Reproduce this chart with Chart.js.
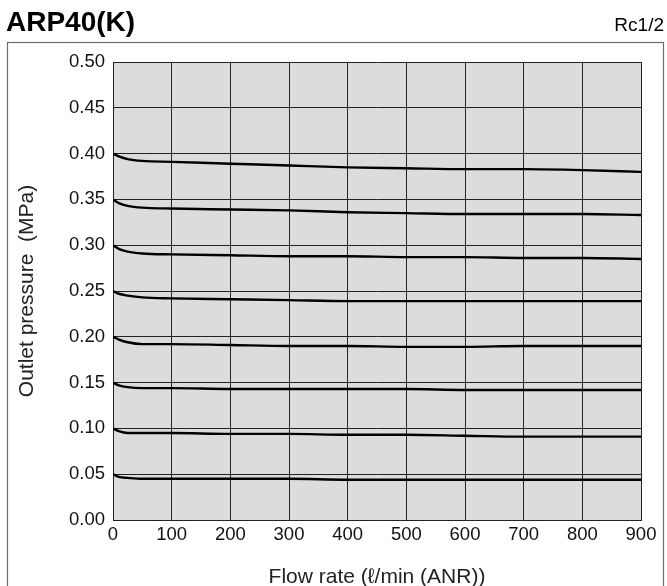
<!DOCTYPE html>
<html>
<head>
<meta charset="utf-8">
<script src="https://cdn.jsdelivr.net/npm/chart.js@4.4.1/dist/chart.umd.min.js"></script>
<style>
html,body{margin:0;padding:0;background:#fff;}
#wrap{width:667px;height:586px;position:relative;}
</style>
</head>
<body>
<div id="wrap"><canvas id="c" width="667" height="586"></canvas></div>
<script>
const flowRates = [0, 10, 25, 50, 100, 200, 300, 400, 500, 600, 700, 800, 900];
const set040 = [0.400, 0.397, 0.394, 0.392, 0.391, 0.389, 0.387, 0.385, 0.384, 0.383, 0.383, 0.382, 0.380];
const set035 = [0.350, 0.346, 0.343, 0.341, 0.340, 0.339, 0.338, 0.336, 0.335, 0.334, 0.334, 0.334, 0.333];
const set030 = [0.300, 0.296, 0.293, 0.291, 0.290, 0.289, 0.288, 0.288, 0.287, 0.287, 0.286, 0.286, 0.285];
const set025 = [0.250, 0.247, 0.245, 0.243, 0.242, 0.241, 0.240, 0.239, 0.239, 0.239, 0.239, 0.239, 0.239];
const set020 = [0.200, 0.197, 0.194, 0.192, 0.192, 0.191, 0.190, 0.190, 0.189, 0.189, 0.190, 0.190, 0.190];
const set015 = [0.150, 0.147, 0.145, 0.144, 0.144, 0.143, 0.143, 0.143, 0.143, 0.142, 0.142, 0.142, 0.142];
const set010 = [0.100, 0.097, 0.095, 0.095, 0.095, 0.094, 0.094, 0.093, 0.093, 0.092, 0.091, 0.091, 0.091];
const set005 = [0.050, 0.047, 0.046, 0.045, 0.045, 0.045, 0.045, 0.044, 0.044, 0.044, 0.044, 0.044, 0.044];
const seriesList = [set040, set035, set030, set025, set020, set015, set010, set005];
const xTickValues = [0, 100, 200, 300, 400, 500, 600, 700, 800, 900];
const yTickValues = [0, 0.05, 0.10, 0.15, 0.20, 0.25, 0.30, 0.35, 0.40, 0.45, 0.50];
const chartTitle = "ARP40(K)";
const portLabel = "Rc1/2";
const xTitle = "Flow rate (\u2113/min (ANR))";
const yTitle = "Outlet pressure  (MPa)";

const FONT = "'Liberation Sans', Arial, Helvetica, sans-serif";

const decor = {
  id: 'decor',
  beforeDraw(chart) {
    const {ctx, chartArea: a} = chart;
    ctx.save();
    ctx.fillStyle = '#fff';
    ctx.fillRect(0, 0, chart.width, chart.height);
    // outer frame
    ctx.strokeStyle = '#6e6e6e';
    ctx.lineWidth = 1.2;
    ctx.strokeRect(7.5, 42.5, 656, 600);
    // plot background
    ctx.fillStyle = '#dcdcdc';
    ctx.fillRect(a.left, a.top, a.right - a.left, a.bottom - a.top);
    // headings
    ctx.fillStyle = '#000';
    ctx.textBaseline = 'alphabetic';
    ctx.font = "bold 28px " + FONT;
    ctx.textAlign = 'left';
    ctx.fillText(chartTitle, 6, 31);
    ctx.font = "19px " + FONT;
    ctx.textAlign = 'right';
    ctx.fillText(portLabel, 664, 31);
    ctx.restore();
  }
};

const datasets = seriesList.map(s => ({
  data: flowRates.map((x, i) => ({x: x, y: s[i]})),
  borderColor: '#000',
  borderWidth: 2.4,
  pointRadius: 0,
  fill: false,
  cubicInterpolationMode: 'monotone'
}));

new Chart(document.getElementById('c'), {
  type: 'line',
  data: {datasets},
  plugins: [decor],
  options: {
    responsive: false,
    animation: false,
    devicePixelRatio: 1,
    layout: {padding: {top: 62, right: 26, left: 0, bottom: 0}},
    plugins: {legend: {display: false}, tooltip: {enabled: false}},
    scales: {
      x: {
        type: 'linear', min: 0, max: 900,
        afterBuildTicks(scale) { scale.ticks = xTickValues.map(v => ({value: v})); },
        afterFit(scale) { scale.height = 66; },
        ticks: {color: '#111', font: {family: FONT, size: 18.5}, padding: 4, maxRotation: 0,
                callback: v => String(v)},
        grid: {color: '#222', lineWidth: 1, drawTicks: false},
        border: {color: '#222', width: 1},
        title: {display: true, text: xTitle, color: '#222', font: {family: FONT, size: 21, lineHeight: 1}, padding: {top: 0, bottom: -2}}
      },
      y: {
        type: 'linear', min: 0, max: 0.5,
        afterBuildTicks(scale) { scale.ticks = yTickValues.map(v => ({value: v})); },
        afterFit(scale) { scale.width = 113; },
        ticks: {color: '#111', font: {family: FONT, size: 18.5}, padding: 8,
                callback: v => v.toFixed(2)},
        grid: {color: '#222', lineWidth: 1, drawTicks: false},
        border: {color: '#222', width: 1},
        title: {display: true, text: yTitle, color: '#222', font: {family: FONT, size: 21, lineHeight: 1}, padding: {top: 17, bottom: 0}}
      }
    }
  }
});
</script>
</body>
</html>
